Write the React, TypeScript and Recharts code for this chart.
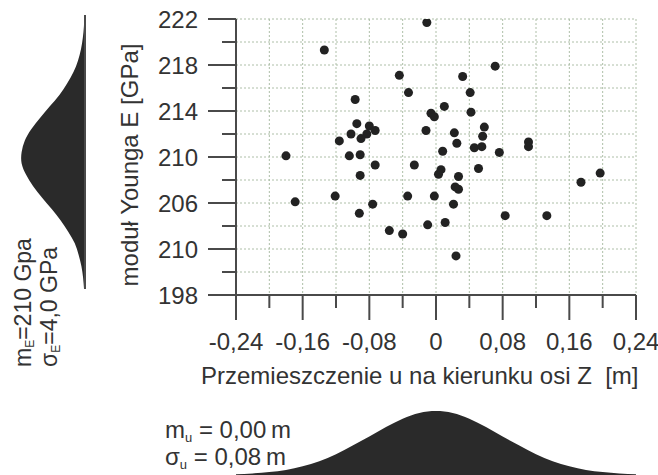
import { ScatterChart, Scatter, XAxis, YAxis, CartesianGrid, AreaChart, Area } from 'recharts';

const FONT = '"Liberation Sans", Arial, Helvetica, sans-serif';
const AXIS_COLOR = '#4a4a4a';
const TEXT_COLOR = '#333';
const DOT_COLOR = '#222';
const FILL_COLOR = '#2a2a2a';
const GRID_COLOR = '#aebfa8';
const FS = 24;

// punkty pomiarowe: przemieszczenie u [m] i moduł E [GPa]
const przemieszczenie = [
  -0.011, -0.134, -0.044, -0.033, -0.097, -0.006, -0.002, -0.095, -0.080, -0.102,
  -0.083, -0.073, -0.012, -0.116, -0.090, -0.180, -0.104, -0.091, 0.032, 0.071,
  0.041, 0.010, 0.042, 0.058, 0.022, 0.056, 0.025, 0.111, 0.111, 0.008,
  0.046, 0.055, 0.076, -0.073, -0.026, -0.091, 0.003, -0.121, -0.034, -0.002,
  -0.169, -0.076, -0.092, -0.010, -0.056, -0.040, 0.051, 0.006, 0.027, 0.023,
  0.027, 0.021, 0.011, 0.024, 0.083, 0.133, 0.174, 0.197,
];
const modulE = [
  221.7, 219.3, 217.1, 215.6, 215.0, 213.8, 213.5, 212.9, 212.7, 212.0,
  212.0, 212.3, 212.3, 211.4, 211.6, 210.1, 210.1, 210.2, 217.0, 217.9,
  215.6, 214.4, 213.9, 212.6, 212.1, 211.8, 211.2, 211.3, 210.9, 210.5,
  210.8, 210.9, 210.4, 209.3, 209.3, 208.4, 208.5, 206.6, 206.6, 206.6,
  206.1, 205.9, 205.1, 204.1, 203.6, 203.3, 209.0, 208.9, 208.3, 207.4,
  207.2, 205.9, 204.3, 201.4, 204.9, 204.9, 207.8, 208.6,
];

const xTicks = [-0.24, -0.2, -0.16, -0.12, -0.08, -0.04, 0, 0.04, 0.08, 0.12, 0.16, 0.2, 0.24];
const xTickLabels = ['-0,24', '', '-0,16', '', '-0,08', '', '0', '', '0,08', '', '0,16', '', '0,24'];
const yTicks = [198, 200, 202, 204, 206, 208, 210, 212, 214, 216, 218, 220, 222];
const yTickLabels = ['198', '', '210', '', '206', '', '210', '', '214', '', '218', '', '222'];

// rozkład E (lewa krzywa)
const rozkladE = [198, 199, 200, 201, 202, 203, 204, 205, 206, 207, 208, 209, 210, 211, 212, 213, 214, 215, 216, 217, 218, 219, 220, 221, 222];
const rozkladEH = [0.008, 0.017, 0.034, 0.063, 0.11, 0.18, 0.28, 0.4, 0.55, 0.7, 0.84, 0.94, 0.99, 0.99, 0.92, 0.81, 0.67, 0.52, 0.38, 0.26, 0.16, 0.1, 0.056, 0.03, 0.015];

// rozkład u (dolna krzywa)
const rozkladU = [-0.24, -0.22, -0.2, -0.18, -0.16, -0.14, -0.12, -0.1, -0.08, -0.06, -0.04, -0.02, 0, 0.02, 0.04, 0.06, 0.08, 0.1, 0.12, 0.14, 0.16, 0.18, 0.2, 0.22, 0.24];
const rozkladUH = [0.01, 0.025, 0.045, 0.08, 0.135, 0.215, 0.325, 0.46, 0.6, 0.75, 0.88, 0.97, 1, 0.97, 0.88, 0.75, 0.6, 0.46, 0.325, 0.215, 0.135, 0.08, 0.045, 0.025, 0.01];

const points = przemieszczenie.map((u, i) => ({ u, e: modulE[i] }));
const leftData = rozkladE.map((e, i) => ({ e, h: rozkladEH[i] }));
const bottomData = rozkladU.map((u, i) => ({ u, h: rozkladUH[i] }));

function XTick(props: any) {
  const { x, y, payload } = props;
  const label = xTickLabels[xTicks.indexOf(payload.value)] ?? '';
  const major = label !== '';
  return (
    <g>
      <line x1={x} y1={y} x2={x} y2={y + (major ? 25 : 13)} stroke={AXIS_COLOR} strokeWidth={2} />
      {major && (
        <text x={x} y={y + 55} textAnchor="middle" fontSize={FS} fill={TEXT_COLOR} fontFamily={FONT}>
          {label}
        </text>
      )}
    </g>
  );
}

function YTick(props: any) {
  const { x, y, payload } = props;
  const label = yTickLabels[yTicks.indexOf(payload.value)] ?? '';
  const major = label !== '';
  return (
    <g>
      <line x1={x - (major ? 28 : 14)} y1={y} x2={x} y2={y} stroke={AXIS_COLOR} strokeWidth={2} />
      {major && (
        <text x={x - 38} y={y + 8.5} textAnchor="end" fontSize={FS} fill={TEXT_COLOR} fontFamily={FONT}>
          {label}
        </text>
      )}
    </g>
  );
}

const XTitle = () => (
  <text x={201} y={384} fontSize={FS} fill={TEXT_COLOR} fontFamily={FONT}>
    {'Przemieszczenie u na kierunku osi Z\u00A0 [m]'}
  </text>
);

const YTitle = () => (
  <text x={138} y={165} transform="rotate(-90, 138, 165)" textAnchor="middle" fontSize={FS} fill={TEXT_COLOR} fontFamily={FONT}>
    moduł Younga E [GPa]
  </text>
);

export default function App() {
  return (
    <div style={{ position: 'absolute', left: 0, top: 0, width: 658, height: 475, background: '#fff' }}>
      <div style={{ position: 'absolute', left: 0, top: 0 }}>
        <ScatterChart width={658} height={475} margin={{ top: 19, right: 22, bottom: 179, left: 235 }}>
          <CartesianGrid stroke={GRID_COLOR} strokeDasharray="2 2" />
          <XAxis
            type="number"
            dataKey="u"
            domain={[-0.24, 0.24]}
            ticks={xTicks}
            interval={0}
            height={1}
            tickSize={0}
            tickMargin={0}
            tickLine={false}
            tick={<XTick />}
            axisLine={{ stroke: AXIS_COLOR, strokeWidth: 2 }}
            allowDataOverflow
            label={<XTitle />}
          />
          <YAxis
            type="number"
            dataKey="e"
            domain={[198, 222]}
            ticks={yTicks}
            interval={0}
            width={1}
            tickSize={0}
            tickMargin={0}
            tickLine={false}
            tick={<YTick />}
            axisLine={{ stroke: AXIS_COLOR, strokeWidth: 2 }}
            allowDataOverflow
            label={<YTitle />}
          />
          <Scatter data={points} fill={DOT_COLOR} isAnimationActive={false} />
        </ScatterChart>
      </div>

      <div style={{ position: 'absolute', left: 0, top: 0 }}>
        <AreaChart layout="vertical" width={100} height={300} data={leftData} margin={{ top: 15, right: 14, bottom: 11, left: 21 }}>
          <XAxis type="number" domain={[0, 1]} reversed hide />
          <YAxis
            type="number"
            dataKey="e"
            domain={[198, 222]}
            orientation="right"
            width={1}
            tick={false}
            tickLine={false}
            axisLine={{ stroke: AXIS_COLOR, strokeWidth: 2 }}
          />
          <Area dataKey="h" type="natural" fill={FILL_COLOR} fillOpacity={1} stroke="none" isAnimationActive={false} />
        </AreaChart>
      </div>

      <div style={{ position: 'absolute', left: 0, top: 405 }}>
        <AreaChart width={658} height={70} data={bottomData} margin={{ top: 6, right: 22, bottom: 0, left: 236 }}>
          <XAxis type="number" dataKey="u" domain={[-0.24, 0.24]} hide />
          <YAxis type="number" domain={[0, 1]} hide />
          <Area dataKey="h" type="natural" fill={FILL_COLOR} fillOpacity={1} stroke="none" isAnimationActive={false} />
        </AreaChart>
      </div>

      <svg width={658} height={475} style={{ position: 'absolute', left: 0, top: 0, pointerEvents: 'none' }}>
        <g fontFamily={FONT} fill={TEXT_COLOR} fontSize={FS}>
          <text x={31} y={367} transform="rotate(-90, 31, 367)" fontSize={23}>
            m<tspan fontSize={12} dy={3}>E</tspan>
            <tspan dy={-3}>=210 Gpa</tspan>
          </text>
          <text x={57} y={367} transform="rotate(-90, 57, 367)" fontSize={23}>
            σ<tspan fontSize={12} dy={3}>E</tspan>
            <tspan dy={-3}>=4,0 GPa</tspan>
          </text>
          <text x={165} y={438}>
            m<tspan fontSize={13} dy={4}>u</tspan>
            <tspan dy={-4}>{'\u00A0= 0,00\u2009m'}</tspan>
          </text>
          <text x={165} y={465}>
            σ<tspan fontSize={13} dy={4}>u</tspan>
            <tspan dy={-4}>{'\u00A0= 0,08\u2009m'}</tspan>
          </text>
        </g>
      </svg>
    </div>
  );
}
